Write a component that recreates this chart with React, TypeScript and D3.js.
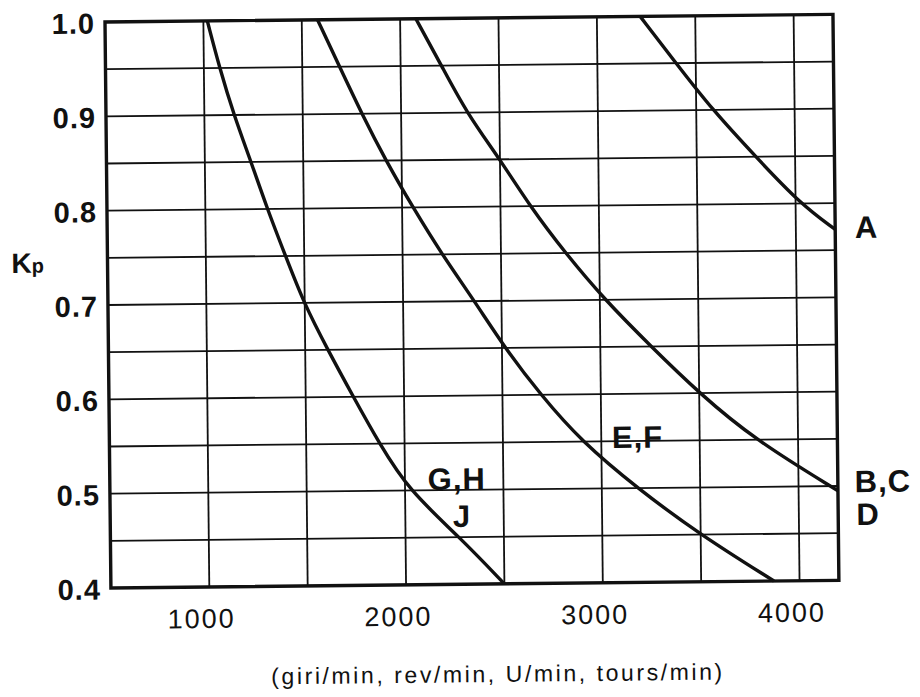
import React from 'react';
import * as d3 from 'd3';

// ---- data ----
const RPM_DOMAIN = [500, 4200];
const KP_DOMAIN = [0.4, 1.0];

const xGridValues = [1000, 1500, 2000, 2500, 3000, 3500, 4000];
const yGridValues = [0.45, 0.5, 0.55, 0.6, 0.65, 0.7, 0.75, 0.8, 0.85, 0.9, 0.95];
const xTickValues = [1000, 2000, 3000, 4000];
const yTickValues = [1.0, 0.9, 0.8, 0.7, 0.6, 0.5, 0.4];
const yTickLabels = ['1.0', '0.9', '0.8', '0.7', '0.6', '0.5', '0.4'];
const xAxisTitle = '(giri/min, rev/min, U/min, tours/min)';

// Curve G,H / J
const ghjRpm = [1020, 1080, 1150, 1235, 1315, 1405, 1495, 1615, 1742, 1872, 2020, 2275, 2500];
const ghjKp = [1.0, 0.95, 0.9, 0.85, 0.8, 0.75, 0.7, 0.65, 0.6, 0.55, 0.5, 0.45, 0.4];
// Curve E,F
const efRpm = [1580, 1690, 1800, 1920, 2055, 2200, 2363, 2515, 2694, 2900, 3180, 3497, 3870];
const efKp = [1.0, 0.95, 0.9, 0.85, 0.8, 0.75, 0.7, 0.65, 0.6, 0.55, 0.5, 0.45, 0.4];
// Curve B,C / D
const bcdRpm = [2080, 2208, 2332, 2500, 2650, 2827, 3025, 3258, 3500, 3780, 4200];
const bcdKp = [1.0, 0.95, 0.9, 0.85, 0.8, 0.75, 0.7, 0.65, 0.6, 0.55, 0.495];
// Curve A
const aRpm = [3220, 3400, 3583, 3800, 4022, 4200];
const aKp = [1.0, 0.95, 0.9, 0.85, 0.8, 0.772];

const curveLabelTexts = ['A', 'B,C', 'D', 'E,F', 'G,H', 'J'];
const curveLabelRpm = [4300, 4286, 4293, 3054, 2116, 2242];
const curveLabelKp = [0.7626, 0.4933, 0.4584, 0.5428, 0.5003, 0.4607];

// ---- layout ----
const W = 920;
const H = 697;
const ORIGIN_X = 105;
const ORIGIN_Y = 22;
const PLOT_W = 728;
const PLOT_H = 566;
const ROT = -0.6;
const FONT = '"Liberation Sans", Arial, Helvetica, sans-serif';
const INK = '#111';

export default function App() {
  const x = d3.scaleLinear().domain(RPM_DOMAIN).range([0, PLOT_W]);
  const y = d3.scaleLinear().domain(KP_DOMAIN).range([PLOT_H, 0]);

  const line = d3
    .line<[number, number]>()
    .x((d) => x(d[0]))
    .y((d) => y(d[1]))
    .curve(d3.curveBasis);

  const series: [number, number][][] = [
    ghjRpm.map((r, i) => [r, ghjKp[i]] as [number, number]),
    efRpm.map((r, i) => [r, efKp[i]] as [number, number]),
    bcdRpm.map((r, i) => [r, bcdKp[i]] as [number, number]),
    aRpm.map((r, i) => [r, aKp[i]] as [number, number]),
  ];

  return (
    <svg
      width={W}
      height={H}
      style={{ position: 'absolute', left: 0, top: 0, background: '#fff' }}
    >
      <rect x={0} y={0} width={W} height={H} fill="#fff" />
      <g transform={`translate(${ORIGIN_X},${ORIGIN_Y}) rotate(${ROT})`}>
        {/* grid */}
        {xGridValues.map((v) => (
          <line
            key={'gx' + v}
            x1={x(v)}
            x2={x(v)}
            y1={0}
            y2={PLOT_H}
            stroke={INK}
            strokeWidth={1.8}
          />
        ))}
        {yGridValues.map((v) => (
          <line
            key={'gy' + v}
            x1={0}
            x2={PLOT_W}
            y1={y(v)}
            y2={y(v)}
            stroke={INK}
            strokeWidth={1.8}
          />
        ))}
        {/* frame */}
        <rect
          x={0}
          y={0}
          width={PLOT_W}
          height={PLOT_H}
          fill="none"
          stroke={INK}
          strokeWidth={3.4}
        />
        {/* curves */}
        {series.map((s, i) => (
          <path
            key={'c' + i}
            d={line(s) || ''}
            fill="none"
            stroke={INK}
            strokeWidth={3.4}
            strokeLinejoin="round"
          />
        ))}
        {/* y tick labels */}
        {yTickValues.map((v, i) => (
          <text
            key={'yt' + v}
            x={-10}
            y={y(v) + 1}
            dy="0.36em"
            textAnchor="end"
            fontFamily={FONT}
            fontWeight="bold"
            fontSize={29}
            letterSpacing={1}
            fill={INK}
          >
            {yTickLabels[i]}
          </text>
        ))}
        {/* x tick labels */}
        {xTickValues.map((v) => (
          <text
            key={'xt' + v}
            x={x(v) - 8}
            y={PLOT_H + 41}
            textAnchor="middle"
            fontFamily={FONT}
            fontSize={27}
            letterSpacing={2}
            fill={INK}
          >
            {v}
          </text>
        ))}
        {/* y axis title Kp */}
        <text x={-96} y={250} fontFamily={FONT} fill={INK}>
          <tspan fontWeight="bold" fontSize={28}>K</tspan>
          <tspan fontWeight="bold" fontSize={20}>p</tspan>
        </text>
        {/* x axis title */}
        <text
          x={x(2456)}
          y={PLOT_H + 98}
          textAnchor="middle"
          fontFamily={FONT}
          fontSize={23}
          textLength={451}
          lengthAdjust="spacing"
          fill={INK}
        >
          {xAxisTitle}
        </text>
        {/* curve labels */}
        {curveLabelTexts.map((t, i) => (
          <text
            key={'cl' + t}
            x={x(curveLabelRpm[i])}
            y={y(curveLabelKp[i])}
            fontFamily={FONT}
            fontWeight="bold"
            fontSize={31}
            letterSpacing={1}
            fill={INK}
          >
            {t}
          </text>
        ))}
      </g>
    </svg>
  );
}
